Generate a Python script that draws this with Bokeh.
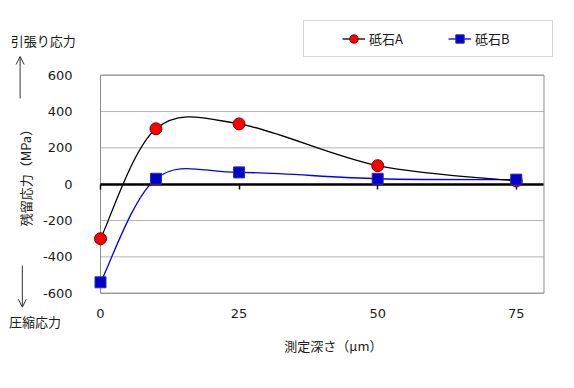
import math
from bokeh.plotting import figure
from bokeh.models import (ColumnDataSource, FixedTicker, LinearAxis, Legend, LegendItem,
                          Label, Arrow, OpenHead, Range1d)
from bokeh.embed import file_html
from bokeh.resources import INLINE

# ---- data ----
depth = [0, 10, 25, 50, 75]
stone_a = [-300, 305, 332, 102, 18]
stone_b = [-540, 30, 65, 30, 25]
x_ticks = [0, 25, 50, 75]
y_ticks = [-600, -400, -200, 0, 200, 400, 600]
y_tick_labels = ["-600", "-400", "-200", "0", "200", "400", "600"]
series_names = ["砥石A", "砥石B"]
x_title = "測定深さ（μm）"
y_title = "残留応力（MPa）"
tension_label = "引張り応力"
compress_label = "圧縮応力"

# plot-area extent (data units)
X_MIN, X_MAX = 0, 80
Y_MIN, Y_MAX = -600, 600

JP = "Noto Sans CJK JP"
NUM = "DejaVu Sans"


def smooth_segments(xs, ys):
    """Bezier control points for a smoothed (Catmull-Rom style) line through the data."""
    n = len(xs)
    d = dict(x0=[], y0=[], x1=[], y1=[], cx0=[], cy0=[], cx1=[], cy1=[])
    for i in range(n - 1):
        p0 = (xs[i - 1], ys[i - 1]) if i > 0 else (xs[i], ys[i])
        p1 = (xs[i], ys[i])
        p2 = (xs[i + 1], ys[i + 1])
        p3 = (xs[i + 2], ys[i + 2]) if i + 2 < n else (xs[i + 1], ys[i + 1])
        d["x0"].append(p1[0]); d["y0"].append(p1[1])
        d["x1"].append(p2[0]); d["y1"].append(p2[1])
        d["cx0"].append(p1[0] + (p2[0] - p0[0]) / 6.0)
        d["cy0"].append(p1[1] + (p2[1] - p0[1]) / 6.0)
        d["cx1"].append(p2[0] - (p3[0] - p1[0]) / 6.0)
        d["cy1"].append(p2[1] - (p3[1] - p1[1]) / 6.0)
    return ColumnDataSource(d)


W, H = 566, 380
p = figure(width=W, height=H, output_backend="svg", toolbar_location=None,
           x_range=Range1d(-18.04, 84.06), y_range=Range1d(-1080.5, 1011.2),
           min_border=0, x_axis_location=None, y_axis_location=None)
p.background_fill_color = "white"
p.border_fill_color = "white"
p.outline_line_color = None
p.xgrid.visible = False
p.ygrid.visible = False

# horizontal gridlines inside the plot area
p.segment(x0=X_MIN, x1=X_MAX, y0=y_ticks, y1=y_ticks, line_color="#B5B5B5", line_width=1)
# plot-area frame
p.quad(left=X_MIN, right=X_MAX, bottom=Y_MIN, top=Y_MAX, fill_color=None,
       line_color="#8C8C8C", line_width=1)

# y axis (labels only) at the plot-area's left edge
yax = LinearAxis(ticker=FixedTicker(ticks=y_ticks), fixed_location=X_MIN)
yax.major_label_overrides = {t: s for t, s in zip(y_ticks, y_tick_labels)}
yax.axis_line_color = None
yax.major_tick_line_color = None
yax.minor_tick_line_color = None
yax.major_label_standoff = 22
yax.major_label_text_font = NUM
yax.major_label_text_font_size = "13px"
yax.major_label_text_color = "#1a1a1a"
p.add_layout(yax, "left")

# x axis labels at plot-area bottom
xax = LinearAxis(ticker=FixedTicker(ticks=x_ticks), fixed_location=Y_MIN)
xax.axis_line_color = None
xax.major_tick_line_color = None
xax.minor_tick_line_color = None
xax.major_label_standoff = 10
xax.major_label_text_font = NUM
xax.major_label_text_font_size = "13px"
xax.major_label_text_color = "#1a1a1a"
p.add_layout(xax, "below")

# x axis line crossing at zero
zax = LinearAxis(ticker=FixedTicker(ticks=x_ticks), fixed_location=0, bounds=(X_MIN, X_MAX))
zax.axis_line_color = "black"
zax.axis_line_width = 2.5
zax.major_tick_line_color = "black"
zax.major_tick_line_width = 1.5
zax.major_tick_out = 5
zax.major_tick_in = 0
zax.minor_tick_line_color = None
zax.major_label_text_font_size = "0px"
zax.major_label_text_alpha = 0
p.add_layout(zax, "below")

# series
src_a = smooth_segments(depth, stone_a)
src_b = smooth_segments(depth, stone_b)
rb_line = p.bezier(x0="x0", y0="y0", x1="x1", y1="y1", cx0="cx0", cy0="cy0", cx1="cx1", cy1="cy1",
                   source=src_b, line_color="#0000FF", line_width=1.3)
ra_line = p.bezier(x0="x0", y0="y0", x1="x1", y1="y1", cx0="cx0", cy0="cy0", cx1="cx1", cy1="cy1",
                   source=src_a, line_color="black", line_width=1.3)
ra_pts = p.scatter(depth, stone_a, marker="circle", size=12, fill_color="#FF0000",
                   line_color="#7A0000", line_width=1, level="overlay")
rb_pts = p.scatter(depth, stone_b, marker="square", size=11, fill_color="#0000C8",
                   line_color="#3030A0", line_width=1, level="overlay")

# legend
legend = Legend(items=[LegendItem(label=series_names[0], renderers=[ra_line, ra_pts]),
                       LegendItem(label=series_names[1], renderers=[rb_line, rb_pts])],
                orientation="horizontal", location=(303, 323), margin=0,
                padding=7, spacing=9, glyph_width=23, glyph_height=21,
                label_standoff=4, label_width=70, label_height=21,
                label_text_font=JP, label_text_font_size="13px", label_text_color="#1a1a1a",
                border_line_color="#B0B0B0", border_line_width=1,
                background_fill_color="white", background_fill_alpha=1,
                title=" ", title_location="left", title_standoff=30,
                title_text_font_size="1px")
p.add_layout(legend, "center")

# texts
p.add_layout(Label(x=-16.2, y=791, text=tension_label, text_font=JP, text_font_size="13px",
                   text_color="#1a1a1a", text_align="left", text_baseline="middle"))
p.add_layout(Label(x=-16.5, y=-754, text=compress_label, text_font=JP, text_font_size="13px",
                   text_color="#1a1a1a", text_align="left", text_baseline="middle"))
p.add_layout(Label(x=42.0, y=-888, text=x_title, text_font=JP, text_font_size="13px",
                   text_color="#1a1a1a", text_align="center", text_baseline="middle"))
p.add_layout(Label(x=-13.5, y=53, text=y_title, text_font=JP, text_font_size="13px",
                   text_color="#1a1a1a", text_align="center", text_baseline="middle",
                   angle=math.pi / 2))
p.add_layout(Arrow(x_start=-14.5, y_start=472, x_end=-14.5, y_end=703,
                   line_color="#333333", line_width=1,
                   end=OpenHead(size=8, line_color="#333333", line_width=1)))
p.add_layout(Arrow(x_start=-14.1, y_start=-448, x_end=-14.1, y_end=-677,
                   line_color="#333333", line_width=1,
                   end=OpenHead(size=8, line_color="#333333", line_width=1)))

open("out.html", "w").write(file_html(p, INLINE))
